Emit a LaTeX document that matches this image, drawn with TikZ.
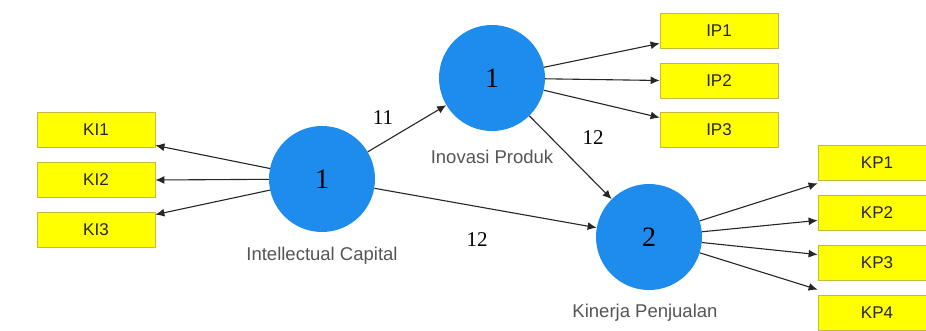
\documentclass[tikz,border=0pt]{standalone}
\usepackage{fontspec}
\setmainfont{Liberation Serif}
\setsansfont{Liberation Sans}
\usetikzlibrary{arrows.meta}
\definecolor{lvblue}{RGB}{30,140,236}
\definecolor{boxyellow}{RGB}{255,255,0}
\definecolor{boxborder}{RGB}{196,186,60}
\definecolor{lblgray}{RGB}{85,85,85}
\begin{document}
\begin{tikzpicture}[x=1pt,y=-1pt,
  latent/.style={circle,fill=lvblue,draw=none,minimum size=106pt,inner sep=0pt,font=\fontsize{28}{30}\selectfont},
  indicator/.style={rectangle,fill=boxyellow,draw=boxborder,line width=0.8pt,minimum width=118pt,minimum height=35pt,inner sep=0pt,font=\sffamily\fontsize{17}{19}\selectfont,text=black!85},
  lvlabel/.style={font=\sffamily\fontsize{18.5}{20}\selectfont,text=lblgray},
  coef/.style={font=\fontsize{21}{23}\selectfont},
  link/.style={draw=black!85,line width=1.1pt,-{Latex[length=9pt,width=8pt]}}
]
\useasboundingbox (0,0) rectangle (926,331);
% latent variables
\node[latent] (IC) at (322,179) {1};
\node[latent] (IPv) at (492,78) {1};
\node[latent] (KPv) at (649,237) {2};
\node[lvlabel] (ICl) at (322,256) {Intellectual Capital};
\node[lvlabel] (IPl) at (492,157) {Inovasi Produk};
\node[lvlabel] (KPl) at (645,313) {Kinerja Penjualan};
% indicators left
\node[indicator] (KI1) at (96,130) {KI1};
\node[indicator] (KI2) at (96,180) {KI2};
\node[indicator] (KI3) at (96,229.5) {KI3};
% indicators IP
\node[indicator] (IP1) at (719,31) {IP1};
\node[indicator] (IP2) at (719,80.5) {IP2};
\node[indicator] (IP3) at (719,130) {IP3};
% indicators KP
\node[indicator] (KP1) at (877,162.5) {KP1};
\node[indicator] (KP2) at (877,212.5) {KP2};
\node[indicator] (KP3) at (877,262.5) {KP3};
\node[indicator] (KP4) at (877,312.5) {KP4};
% outer model arrows
\draw[link] (IC) -- ([yshift=2.5pt]KI1.south east);
\draw[link] (IC) -- (KI2.east);
\draw[link] (IC) -- ([yshift=-3pt]KI3.north east);
\draw[link] (IPv) -- ([yshift=5.5pt]IP1.south west);
\draw[link] (IPv) -- (IP2.west);
\draw[link] (IPv) -- ([yshift=-5.5pt]IP3.north west);
\draw[link] (KPv) -- ([yshift=-3pt]KP1.south west);
\draw[link] (KPv) -- ([yshift=10pt]KP2.south west);
\draw[link] (KPv) -- ([yshift=-10pt]KP3.north west);
\draw[link] (KPv) -- ([yshift=5pt]KP4.north west);
% inner model arrows
\draw[link] (IC) -- (IPv);
\draw[link] (IC) -- (KPv);
\draw[link] (IPv) -- (KPv);
% coefficients
\node[coef] (c1) at (383,118) {11};
\node[coef] (c2) at (593,138) {12};
\node[coef] (c3) at (477,240) {12};
\end{tikzpicture}
\end{document}
